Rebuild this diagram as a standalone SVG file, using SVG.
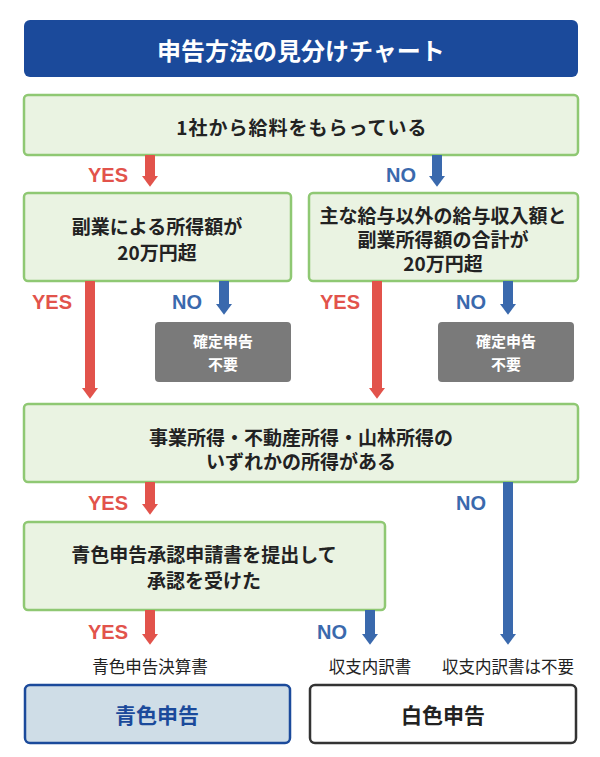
<svg xmlns="http://www.w3.org/2000/svg" width="600" height="757" viewBox="0 0 600 757">
<style>
text{font-family:"Noto Sans CJK JP","Noto Sans",sans-serif;font-weight:bold;text-anchor:middle;dominant-baseline:central}
.g{fill:#eaf3e2;stroke:#8fc873;stroke-width:2.5}
.t{font-size:19px;fill:#222}
.gr{fill:#7a7a7a}
.gt{font-size:15px;fill:#fff}
.y{font-size:20px;fill:#e2534b;font-family:"Liberation Sans",sans-serif}
.n{font-size:20px;fill:#3a69ad;font-family:"Liberation Sans",sans-serif}
.s{font-size:16.5px;fill:#222;font-weight:normal}
.r{stroke:#e2534b;stroke-width:10;fill:none}
.b{stroke:#3a69ad;stroke-width:10;fill:none}
</style>
<defs>
<marker id="mr" markerUnits="userSpaceOnUse" markerWidth="24" markerHeight="16" refX="0" refY="12" orient="auto" viewBox="0 0 16 24"><path d="M0,0L16,12L0,24Z" fill="#e2534b"/></marker>
<marker id="mb" markerUnits="userSpaceOnUse" markerWidth="24" markerHeight="16" refX="0" refY="12" orient="auto" viewBox="0 0 16 24"><path d="M0,0L16,12L0,24Z" fill="#3a69ad"/></marker>
</defs>
<g id="title"><rect x="24" y="20" width="554" height="57" rx="6" fill="#1b4a9b"/><text x="301" y="49" font-size="24" fill="#fff">申告方法の見分けチャート</text></g>
<g id="q1"><rect class="g" x="24" y="95" width="554" height="60" rx="4"/><text class="t" x="302" y="126" font-size="21" letter-spacing="1">1社から給料をもらっている</text></g>
<g id="q2"><rect class="g" x="24" y="193" width="267" height="88" rx="4"/><text class="t" x="157" y="225">副業による所得額が</text><text class="t" x="157" y="251">20万円超</text></g>
<g id="q3"><rect class="g" x="309" y="193" width="269" height="88" rx="4"/><text class="t" x="443" y="214" font-size="18">主な給与以外の給与収入額と</text><text class="t" x="443" y="238" font-size="18">副業所得額の合計が</text><text class="t" x="443" y="262" font-size="18">20万円超</text></g>
<g id="nr1"><rect class="gr" x="155" y="322" width="136" height="60" rx="4"/><text class="gt" x="223" y="340">確定申告</text><text class="gt" x="223" y="363">不要</text></g>
<g id="nr2"><rect class="gr" x="438" y="322" width="136" height="60" rx="4"/><text class="gt" x="506" y="340">確定申告</text><text class="gt" x="506" y="363">不要</text></g>
<g id="q4"><rect class="g" x="24" y="404" width="554" height="78" rx="4"/><text class="t" x="301" y="436">事業所得・不動産所得・山林所得の</text><text class="t" x="301" y="460">いずれかの所得がある</text></g>
<g id="q5"><rect class="g" x="24" y="522" width="361" height="88" rx="4"/><text class="t" x="204" y="553">青色申告承認申請書を提出して</text><text class="t" x="204" y="579">承認を受けた</text></g>
<g id="blue"><rect x="25" y="685" width="265" height="58" rx="5" fill="#cfdde7" stroke="#1b4a9b" stroke-width="2.5"/><text x="157" y="714" font-size="21" fill="#1b4a9b">青色申告</text></g>
<g id="white"><rect x="310" y="685" width="266" height="58" rx="5" fill="#fff" stroke="#333" stroke-width="2.5"/><text x="443" y="714" font-size="21" fill="#222">白色申告</text></g>
<g id="connectors">
<line class="r" x1="150" y1="155" x2="150" y2="176" marker-end="url(#mr)"/><text class="y" x="108" y="175">YES</text>
<line class="b" x1="437" y1="155" x2="437" y2="176" marker-end="url(#mb)"/><text class="n" x="401" y="175">NO</text>
<line class="r" x1="90" y1="281" x2="90" y2="388" marker-end="url(#mr)"/><text class="y" x="52" y="302">YES</text>
<line class="b" x1="224" y1="281" x2="224" y2="304" marker-end="url(#mb)"/><text class="n" x="187" y="302">NO</text>
<line class="r" x1="377" y1="281" x2="377" y2="388" marker-end="url(#mr)"/><text class="y" x="340" y="302">YES</text>
<line class="b" x1="508" y1="281" x2="508" y2="304" marker-end="url(#mb)"/><text class="n" x="471" y="302">NO</text>
<line class="r" x1="150" y1="482" x2="150" y2="504" marker-end="url(#mr)"/><text class="y" x="108" y="503">YES</text>
<line class="b" x1="508" y1="482" x2="508" y2="634" marker-end="url(#mb)"/><text class="n" x="471" y="503">NO</text>
<line class="r" x1="150" y1="610" x2="150" y2="634" marker-end="url(#mr)"/><text class="y" x="108" y="632">YES</text>
<line class="b" x1="370" y1="610" x2="370" y2="634" marker-end="url(#mb)"/><text class="n" x="332" y="632">NO</text>
</g>
<text class="s" x="150" y="666">青色申告決算書</text>
<text class="s" x="370" y="666">収支内訳書</text>
<text class="s" x="508" y="666">収支内訳書は不要</text>
</svg>
